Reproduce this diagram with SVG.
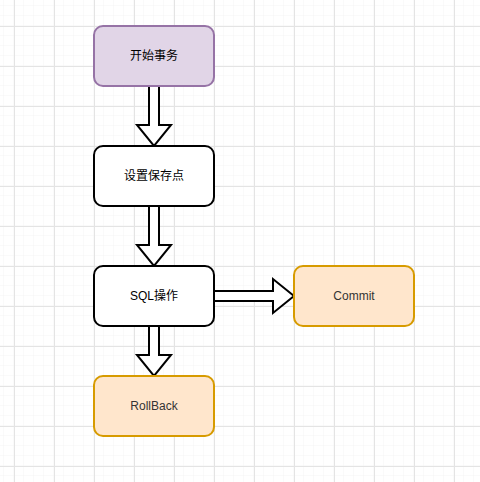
<svg xmlns="http://www.w3.org/2000/svg" width="480" height="482" viewBox="0 0 480 482">
<defs>
<pattern id="minor" x="4" y="6" width="10" height="10" patternUnits="userSpaceOnUse">
<path d="M10 0V10M0 10H10" fill="none" stroke="#f4f4f4" stroke-width="1"/>
</pattern>
<pattern id="major" x="14" y="26" width="40" height="40" patternUnits="userSpaceOnUse">
<path d="M0.5 0V40M0 0.5H40" fill="none" stroke="#e4e4e4" stroke-width="1"/>
</pattern>
</defs>
<style>
.box{stroke-width:2}
.plain{fill:#ffffff;stroke:#000000}
.purple{fill:#e1d5e7;stroke:#9673a6}
.orange{fill:#ffe6cc;stroke:#d79b00}
.lbl{font-family:"Liberation Sans","Noto Sans CJK SC",sans-serif;font-size:12px;text-anchor:middle;dominant-baseline:central}
.dark{fill:#000}
.grey{fill:#333}
.arrow{fill:#ffffff;stroke:#000000;stroke-width:2;stroke-linejoin:miter}
</style>
<rect width="480" height="482" fill="#ffffff"/>
<rect width="480" height="482" fill="url(#minor)"/>
<rect width="480" height="482" fill="url(#major)"/>
<g id="connectors">
<path class="arrow" d="M149 86V125H137L154 146L171 125H159V86Z"/>
<path class="arrow" d="M149 206V245H137L154 266L171 245H159V206Z"/>
<path class="arrow" d="M149 326V355H137L154 376L171 355H159V326Z"/>
<path class="arrow" d="M214 291H273V279L294 296L273 313V301H214Z"/>
</g>
<g id="start">
<rect class="box purple" x="94" y="26" width="120" height="60" rx="9"/>
<text class="lbl dark" x="154" y="56">开始事务</text>
</g>
<g id="savepoint">
<rect class="box plain" x="94" y="146" width="120" height="60" rx="9"/>
<text class="lbl dark" x="154" y="176">设置保存点</text>
</g>
<g id="sql">
<rect class="box plain" x="94" y="266" width="120" height="60" rx="9"/>
<text class="lbl dark" x="154" y="296">SQL操作</text>
</g>
<g id="commit">
<rect class="box orange" x="294" y="266" width="120" height="60" rx="9"/>
<text class="lbl grey" x="354" y="296">Commit</text>
</g>
<g id="rollback">
<rect class="box orange" x="94" y="376" width="120" height="60" rx="9"/>
<text class="lbl grey" x="154" y="406">RollBack</text>
</g>
</svg>
